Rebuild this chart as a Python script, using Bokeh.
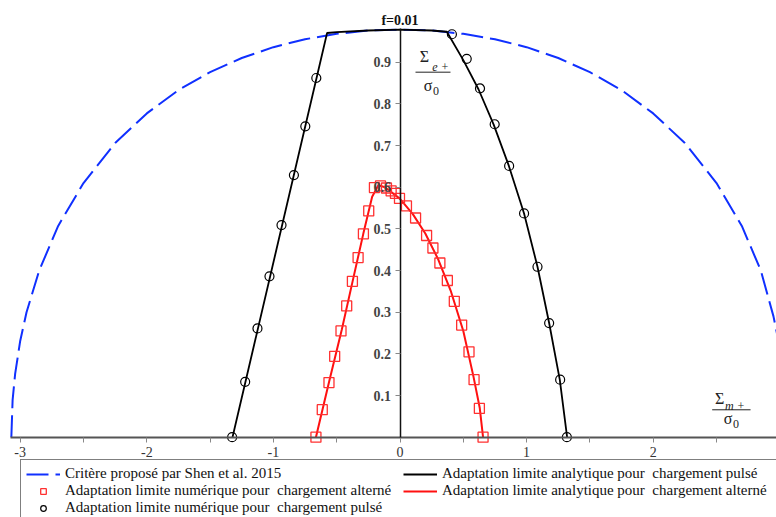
from bokeh.plotting import figure
from bokeh.models import Range1d, FixedTicker, Legend, LegendItem, Label, Arrow
from bokeh.embed import file_html
from bokeh.resources import INLINE

# --- Data ---
# Critère proposé par Shen et al. 2015 (f = 0.01)
crit_x = [-3.07, -3.06, -3.04, -3.0, -2.95, -2.85, -2.7, -2.5, -2.25, -2.0, -1.75, -1.5, -1.25, -1.0, -0.75, -0.5, -0.25,
          0.0, 0.25, 0.5, 0.75, 1.0, 1.25, 1.5, 1.75, 2.0, 2.25, 2.5, 2.7, 2.85, 2.95, 3.0, 3.04, 3.06, 3.07]
crit_y = [0.0, 0.089, 0.152, 0.231, 0.300, 0.400, 0.507, 0.610, 0.706, 0.777, 0.833, 0.876, 0.910, 0.936, 0.955, 0.968, 0.976,
          0.978, 0.976, 0.968, 0.955, 0.936, 0.910, 0.876, 0.833, 0.777, 0.706, 0.610, 0.507, 0.400, 0.290, 0.215, 0.140, 0.085, 0.0]

# Adaptation limite analytique pour chargement pulsé
ana_p_x = [-1.323, -0.576, -0.5, -0.25, 0.0, 0.25, 0.37, 0.50, 0.62, 0.74, 0.86, 0.98, 1.086, 1.178, 1.262, 1.32]
ana_p_y = [0.0, 0.970, 0.972, 0.976, 0.978, 0.976, 0.973, 0.905, 0.835, 0.750, 0.651, 0.537, 0.409, 0.274, 0.138, 0.0]

# Adaptation limite numérique pour chargement pulsé
num_p_x = [-1.326, -1.223, -1.126, -1.031, -0.936, -0.838, -0.748, -0.661,
           0.41, 0.527, 0.632, 0.748, 0.862, 0.98, 1.086, 1.178, 1.265, 1.318]
num_p_y = [0.0, 0.133, 0.261, 0.386, 0.509, 0.629, 0.746, 0.862,
           0.967, 0.908, 0.837, 0.751, 0.651, 0.537, 0.409, 0.274, 0.138, 0.0]

# Adaptation limite numérique pour chargement alterné
num_a_x = [-0.664, -0.614, -0.561, -0.516, -0.466, -0.421, -0.376, -0.331, -0.289, -0.247, -0.202, -0.154, -0.107, -0.070,
           -0.036, -0.004, 0.051, 0.123, 0.210, 0.260, 0.315, 0.374, 0.429, 0.487, 0.545, 0.585, 0.627, 0.656]
num_a_y = [0.0, 0.066, 0.131, 0.194, 0.255, 0.315, 0.374, 0.431, 0.488, 0.543, 0.599, 0.603, 0.598, 0.591,
           0.585, 0.573, 0.555, 0.526, 0.484, 0.454, 0.418, 0.376, 0.326, 0.269, 0.205, 0.138, 0.069, 0.0]

# Adaptation limite analytique pour chargement alterné
ana_a_x = [-0.664, -0.56, -0.46, -0.37, -0.29, -0.22, -0.17, -0.12, -0.05, 0.0, 0.1, 0.2, 0.3, 0.4, 0.5, 0.58, 0.63, 0.656]
ana_a_y = [0.0, 0.133, 0.258, 0.380, 0.488, 0.577, 0.605, 0.600, 0.584, 0.572, 0.536, 0.489, 0.428, 0.352, 0.255, 0.146, 0.07, 0.0]

x_ticks = [-3, -2, -1, 0, 1, 2, 3]
x_minor = [-2.5, -1.5, -0.5, 0.5, 1.5, 2.5]
x_labels = ["-3", "-2", "-1", "0", "1", "2", "3"]
y_ticks = [0.1, 0.2, 0.3, 0.4, 0.5, 0.6, 0.7, 0.8, 0.9]
y_labels = ["0.1", "0.2", "0.3", "0.4", "0.5", "0.6", "0.7", "0.8", "0.9"]

FONT = "Liberation Serif"
TXT = "#222222"

p = figure(frame_width=776, frame_height=517,
           x_range=Range1d(-3.1556, 2.9739), y_range=Range1d(-0.1927, 1.048),
           output_backend="svg", toolbar_location=None, title=None,
           min_border=0, min_border_left=0, min_border_right=0, min_border_top=0, min_border_bottom=0)
p.grid.visible = False
p.outline_line_color = None
p.background_fill_color = "white"

# axes through the origin
p.xaxis.fixed_location = 0
p.yaxis.fixed_location = 0
p.xaxis.bounds = (-3.08, 2.9739)
p.yaxis.bounds = (0, 0.981)
p.xaxis.ticker = FixedTicker(ticks=x_ticks, minor_ticks=x_minor)
p.xaxis.major_label_overrides = {t: l for t, l in zip(x_ticks, x_labels)}
p.yaxis.ticker = FixedTicker(ticks=y_ticks, minor_ticks=[])
p.yaxis.major_label_overrides = {t: l for t, l in zip(y_ticks, y_labels)}

p.xaxis.axis_line_color = "#555555"
p.xaxis.axis_line_width = 2
p.xaxis.major_tick_line_color = "#888888"
p.xaxis.minor_tick_line_color = "#888888"
p.xaxis.major_tick_in = 0
p.xaxis.major_tick_out = 5
p.xaxis.minor_tick_in = 0
p.xaxis.minor_tick_out = 5
p.xaxis.major_label_standoff = 5
p.xaxis.major_label_text_font = FONT
p.xaxis.major_label_text_font_size = "14px"
p.xaxis.major_label_text_color = "#333333"

p.yaxis.axis_line_color = "#111111"
p.yaxis.axis_line_width = 1.5
p.yaxis.major_tick_line_color = "#888888"
p.yaxis.major_tick_in = 0
p.yaxis.major_tick_out = 5
p.yaxis.minor_tick_line_color = None
p.yaxis.major_label_standoff = 4
p.yaxis.major_label_text_font = FONT
p.yaxis.major_label_text_font_size = "14px"
p.yaxis.major_label_text_font_style = "bold"
p.yaxis.major_label_text_color = "#444444"

# curves
r_crit = p.line(crit_x, crit_y, line_color="#1030ff", line_width=2, line_dash="22 7")
r_ana_p = p.line(ana_p_x, ana_p_y, line_color="black", line_width=1.8)
r_ana_a = p.line(ana_a_x, ana_a_y, line_color="#ff1010", line_width=2)
r_num_a = p.scatter(num_a_x, num_a_y, marker="square", size=10, fill_color=None,
                    line_color="#ff3030", line_width=1.3)
r_num_p = p.scatter(num_p_x, num_p_y, marker="circle", size=9, fill_color=None,
                    line_color="black", line_width=1.2)

# title
p.add_layout(Label(x=0, y=1.0, text="f=0.01", text_align="center", text_baseline="alphabetic",
                   text_font=FONT, text_font_size="14px", text_font_style="bold", text_color="#111111"))


def lab(x, y, text, size, style="normal"):
    p.add_layout(Label(x=x, y=y, text=text, text_align="center", text_baseline="middle",
                       text_font=FONT, text_font_size=size, text_font_style=style, text_color=TXT))


# axis-name fractions: Σe+/σ0 and Σm+/σ0
lab(0.1935, 0.9148, "Σ", "16px")
lab(0.320, 0.8896, "e +", "12px", "italic")
p.add_layout(Arrow(start=None, end=None, x_start=0.1225, y_start=0.876, x_end=0.3988, y_end=0.876,
                   line_color=TXT, line_width=1))
lab(0.221, 0.844, "σ", "16px")
lab(0.284, 0.831, "0", "12px")

lab(2.524, 0.0922, "Σ", "16px")
lab(2.646, 0.076, "m +", "12px", "italic")
p.add_layout(Arrow(start=None, end=None, x_start=2.466, y_start=0.0658, x_end=2.769, y_end=0.0658,
                   line_color=TXT, line_width=1))
lab(2.591, 0.0449, "σ", "16px")
lab(2.654, 0.0305, "0", "12px")

legend = Legend(items=[
    LegendItem(label="Critère proposé par Shen et al. 2015", renderers=[r_crit]),
    LegendItem(label="Adaptation limite numérique pour  chargement alterné", renderers=[r_num_a]),
    LegendItem(label="Adaptation limite numérique pour  chargement pulsé", renderers=[r_num_p]),
    LegendItem(label="Adaptation limite analytique pour  chargement pulsé", renderers=[r_ana_p]),
    LegendItem(label="Adaptation limite analytique pour  chargement alterné", renderers=[r_ana_a]),
], ncols=2, location=(20, -5), orientation="vertical",
    label_text_font=FONT, label_text_font_size="15px", label_text_color="#111111",
    label_height=16, glyph_height=14, glyph_width=34, label_standoff=5, label_width=338,
    spacing=0, padding=5, margin=0, border_line_color="black", border_line_width=1,
    background_fill_color="white", background_fill_alpha=1)
p.add_layout(legend, "center")

open("out.html", "w").write(file_html(p, INLINE))
